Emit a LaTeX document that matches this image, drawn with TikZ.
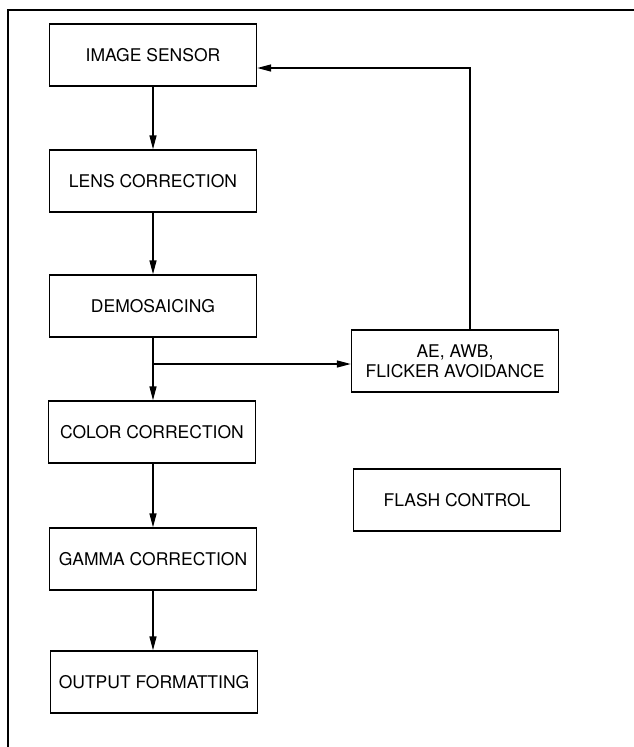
\documentclass[tikz,border=0pt]{standalone}
\usepackage{fontspec}
\setmainfont{TeX Gyre Heros}
\usetikzlibrary{arrows.meta,positioning,calc}

\tikzset{
  block/.style={draw, line width=1.4pt, minimum width=207pt, minimum height=62pt,
    inner sep=2pt, align=center, font=\fontsize{17.5}{20}\selectfont},
  arr/.style={line width=1.4pt, -{Triangle[length=14pt,width=7pt]}},
  plain/.style={line width=1.4pt}
}

\begin{document}
\begin{tikzpicture}[x=1pt,y=-1pt]
		\useasboundingbox (0,0) rectangle (634,747);
		
		% outer frame (only left and top edges show)
		\draw[plain] (8,747) -- (8,10) -- (634,10);
		
		% pipeline blocks
		\node[block] (sensor) at (153,55) {IMAGE SENSOR};
		\node[block] (lens) at (153,181) {LENS CORRECTION};
		\node[block] (demo) at (153,306) {DEMOSAICING};
		\node[block] (color) at (152,432) {COLOR CORRECTION};
		\node[block] (gamma) at (153,559) {GAMMA CORRECTION};
		\node[block] (output) at (154,682) {OUTPUT FORMATTING};
		
		% side blocks
		\node[block] (ctrl) at (455,361) {AE, AWB,\\FLICKER AVOIDANCE};
		\node[block] (flash) at (457,500) {FLASH CONTROL};
		
		% main flow
		\draw[arr] (sensor) -- (lens);
		\draw[arr] (lens) -- (demo);
		\draw[arr] (demo.south) -- (demo.south |- color.north);
		\draw[arr] (color.south -| demo.south) -- (demo.south |- gamma.north);
		\draw[arr] (gamma.south) -- (gamma.south |- output.north);
		
		% statistics branch and feedback
		\coordinate (split) at (153,364);
		\coordinate (fb) at (470,68);
		\draw[arr] (split) -- (ctrl.west |- split);
		\draw[arr] (ctrl.north -| fb) -- (fb) -- (sensor.east |- fb);
	\end{tikzpicture}
\end{document}
